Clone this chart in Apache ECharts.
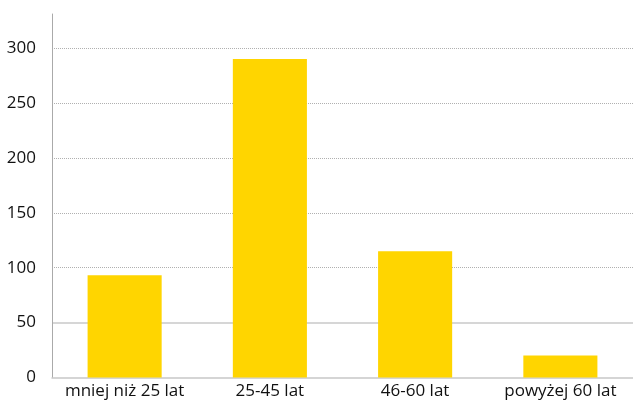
<!DOCTYPE html>
<html>
<head>
<meta charset="utf-8">
<script src="https://cdn.jsdelivr.net/npm/echarts@6/dist/echarts.min.js"></script>
<style>
html,body{margin:0;padding:0;background:#fff;}
#chart{width:633px;height:403px;}
</style>
</head>
<body>
<div id="chart"></div>
<script>
const categories = ["mniej niż 25 lat", "25-45 lat", "46-60 lat", "powyżej 60 lat"];
const values = [93, 290, 115, 20];
const gridTicks = [50, 100, 150, 200, 250, 300];
const solidGridValues = [50];

const T = 'rgba(0,0,0,0)';
const dottedColors = gridTicks.map(v => solidGridValues.includes(v) ? T : '#b0b0b0');
const solidColors = gridTicks.map(v => solidGridValues.includes(v) ? '#c8c8c8' : T);

const chart = echarts.init(document.getElementById('chart'), null, {renderer: 'canvas'});
const yBase = {type: 'value', min: 0, max: 331, interval: 50};
chart.setOption({
  animation: false,
  grid: {left: 52, right: -5, top: 14, bottom: 25.5, containLabel: false},
  xAxis: {
    type: 'category',
    data: categories,
    axisLine: {show: true, lineStyle: {color: '#c8c8c8', width: 1.5}},
    axisTick: {show: false},
    axisLabel: {interval: 0, color: '#111111', fontFamily: 'Open Sans', fontSize: 17, margin: 5}
  },
  yAxis: [Object.assign({}, yBase, {
    position: 'left',
    axisLine: {show: true, lineStyle: {color: '#aaaaaa', width: 1}},
    axisTick: {show: false},
    axisLabel: {
      showMaxLabel: false,
      color: '#111111', fontFamily: 'Open Sans', fontSize: 17, margin: 16,
      formatter: v => (v % 50 === 0 ? String(v) : '')
    },
    splitLine: {show: true, showMaxLine: false, showMinLine: false, lineStyle: {color: dottedColors, type: [1, 1], width: 1}}
  }), Object.assign({}, yBase, {
    position: 'right',
    axisLine: {show: false},
    axisTick: {show: false},
    axisLabel: {show: false},
    splitLine: {show: true, showMaxLine: false, showMinLine: false, lineStyle: {color: solidColors, type: 'solid', width: 1.5}}
  })],
  series: [{
    type: 'bar',
    data: values,
    barWidth: '51%',
    itemStyle: {color: '#FFD500'}
  }]
});
</script>
</body>
</html>
